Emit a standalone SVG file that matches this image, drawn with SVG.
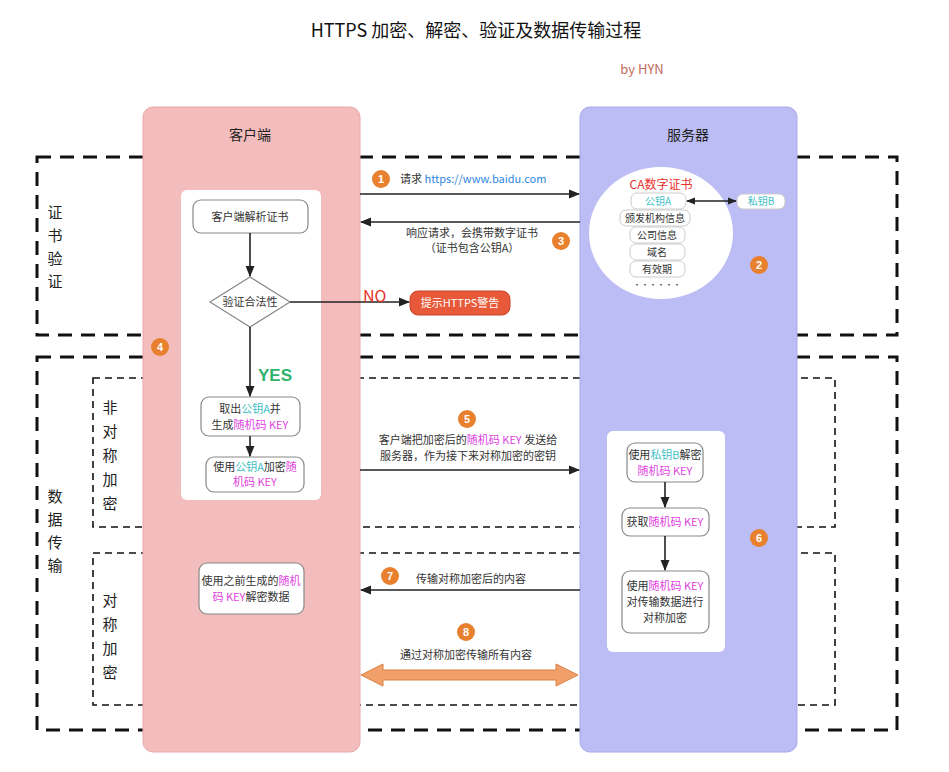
<svg xmlns="http://www.w3.org/2000/svg" width="949" height="772" viewBox="0 0 949 772">
<defs>
<style>
text{font-family:"Noto Sans CJK SC","Liberation Sans",sans-serif;fill:#333}
.t{font-size:11px;text-anchor:middle}
.v{font-size:15px;text-anchor:middle;fill:#222}
.hd{font-size:14px;text-anchor:middle;fill:#222}
.c{fill:#3fbfc4}
.m{fill:#e03fe0}
.box{fill:#fff;stroke:#888;stroke-width:1.2}
.pill{fill:#fff;stroke:#ccc;stroke-width:1}
.dash1{fill:none;stroke:#111;stroke-width:3;stroke-dasharray:14 9}
.dash2{fill:none;stroke:#111;stroke-width:1.6;stroke-dasharray:7 5}
.ln{stroke:#222;stroke-width:1.6;fill:none}
.num circle{fill:#e8802e}
.num text{fill:#fff;font-size:11px;text-anchor:middle;font-family:"Liberation Sans",sans-serif;font-weight:bold}
</style>
<marker id="ah" viewBox="0 0 10 10" refX="9" refY="5" markerWidth="7" markerHeight="7" orient="auto-start-reverse"><path d="M0,1 L10,5 L0,9 z" fill="#222"/></marker>
</defs>
<rect width="949" height="772" fill="#fff"/>
<g id="title">
<text x="476" y="37" style="font-size:18px;text-anchor:middle;fill:#111">HTTPS 加密、解密、验证及数据传输过程</text>
<text x="642" y="74" style="font-size:13px;text-anchor:middle;fill:#c46a5c">by HYN</text>
</g>
<g id="sections">
<rect class="dash1" x="37" y="157" width="860" height="178"/>
<rect class="dash1" x="37" y="357" width="860" height="373"/>
<rect class="dash2" x="93" y="378" width="742" height="149"/>
<rect class="dash2" x="93" y="553" width="742" height="152"/>
<text class="v" x="55" y="218">证</text><text class="v" x="55" y="241">书</text><text class="v" x="55" y="264">验</text><text class="v" x="55" y="287">证</text>
<text class="v" x="55" y="502">数</text><text class="v" x="55" y="525">据</text><text class="v" x="55" y="548">传</text><text class="v" x="55" y="571">输</text>
<text class="v" x="110" y="413">非</text><text class="v" x="110" y="437">对</text><text class="v" x="110" y="461">称</text><text class="v" x="110" y="485">加</text><text class="v" x="110" y="509">密</text>
<text class="v" x="110" y="606">对</text><text class="v" x="110" y="630">称</text><text class="v" x="110" y="654">加</text><text class="v" x="110" y="678">密</text>
</g>
<g id="client">
<rect x="143" y="107" width="217" height="645" rx="10" fill="#f4bdbd" stroke="#e8a8a8"/>
<text class="hd" x="250" y="140">客户端</text>
<rect x="181" y="190" width="140" height="310" rx="6" fill="#fff"/>
</g>
<g id="server">
<rect x="580" y="107" width="217" height="645" rx="10" fill="#bdbdf5" stroke="#a8a8e8"/>
<text class="hd" x="688" y="140">服务器</text>
<rect x="607" y="431" width="118" height="221" rx="6" fill="#fff"/>
</g>
<g id="parse"><rect class="box" x="193" y="200" width="115" height="33" rx="8"/><text class="t" x="250" y="221">客户端解析证书</text></g>
<g id="verify"><path class="box" d="M250,277 L290,302 L250,327 L210,302 z"/><text class="t" x="250" y="306">验证合法性</text></g>
<g id="warn"><rect x="410" y="291" width="100" height="24" rx="8" fill="#e8593a" stroke="#c94528"/><text class="t" x="460" y="307" style="fill:#fff">提示HTTPS警告</text></g>
<g id="getkey"><rect class="box" x="201" y="397" width="99" height="39" rx="8"/>
<text class="t" x="250" y="413">取出<tspan class="c">公钥A</tspan>并</text>
<text class="t" x="250" y="429">生成<tspan class="m">随机码 KEY</tspan></text></g>
<g id="enckey"><rect class="box" x="206" y="457" width="98" height="35" rx="8"/>
<text class="t" x="255" y="471">使用<tspan class="c">公钥A</tspan>加密<tspan class="m">随</tspan></text>
<text class="t" x="255" y="486"><tspan class="m">机码 KEY</tspan></text></g>
<g id="decdata"><rect class="box" x="199" y="563" width="105" height="51" rx="8"/>
<text class="t" x="251" y="585">使用之前生成的<tspan class="m">随机</tspan></text>
<text class="t" x="251" y="601"><tspan class="m">码 KEY</tspan>解密数据</text></g>
<g id="ca">
<ellipse cx="661" cy="233" rx="72" ry="66" fill="#fff"/>
<text x="661" y="189" style="font-size:12px;text-anchor:middle;fill:#e8302a">CA数字证书</text>
<rect class="pill" x="631" y="193" width="55" height="16" rx="6"/><text class="t c" x="658" y="205" style="font-size:10px">公钥A</text>
<rect class="pill" x="620" y="210" width="70" height="16" rx="6"/><text class="t" x="655" y="222" style="font-size:10px">颁发机构信息</text>
<rect class="pill" x="630" y="227" width="55" height="16" rx="6"/><text class="t" x="657" y="239" style="font-size:10px">公司信息</text>
<rect class="pill" x="630" y="244" width="55" height="16" rx="6"/><text class="t" x="657" y="256" style="font-size:10px">域名</text>
<rect class="pill" x="630" y="261" width="55" height="16" rx="6"/><text class="t" x="657" y="273" style="font-size:10px">有效期</text>
<text class="t" x="657" y="288" style="font-size:8px">······</text>
</g>
<g id="privkey"><rect class="pill" x="737" y="194" width="48" height="15" rx="6"/><text class="t c" x="761" y="205" style="font-size:10px">私钥B</text></g>
<g id="decrypt"><rect class="box" x="627" y="443" width="76" height="39" rx="8"/>
<text class="t" x="665" y="459">使用<tspan class="c">私钥B</tspan>解密</text>
<text class="t" x="665" y="475"><tspan class="m">随机码 KEY</tspan></text></g>
<g id="obtain"><rect class="box" x="622" y="508" width="87" height="28" rx="8"/>
<text class="t" x="665" y="526">获取<tspan class="m">随机码 KEY</tspan></text></g>
<g id="symenc"><rect class="box" x="622" y="571" width="87" height="62" rx="8"/>
<text class="t" x="665" y="590">使用<tspan class="m">随机码 KEY</tspan></text>
<text class="t" x="665" y="606">对传输数据进行</text>
<text class="t" x="665" y="622">对称加密</text></g>
<g id="connectors">
<line class="ln" x1="250" y1="233" x2="250" y2="276" marker-end="url(#ah)"/>
<line class="ln" x1="290" y1="302" x2="409" y2="302" marker-end="url(#ah)"/>
<text x="363" y="302" style="font-size:16px;fill:#e8302a">NO</text>
<line class="ln" x1="250" y1="327" x2="250" y2="396" marker-end="url(#ah)"/>
<text x="258" y="381" style="font-size:17px;fill:#2db36a;font-family:'Liberation Sans',sans-serif;font-weight:bold">YES</text>
<line class="ln" x1="250" y1="436" x2="250" y2="456" marker-end="url(#ah)"/>
<line class="ln" x1="360" y1="194" x2="579" y2="194" marker-end="url(#ah)"/>
<text x="400" y="183" style="font-size:11px">请求 <tspan style="fill:#2e86de">https://www.baidu.com</tspan></text>
<line class="ln" x1="580" y1="222" x2="361" y2="222" marker-end="url(#ah)"/>
<text class="t" x="472" y="237">响应请求，会携带数字证书</text>
<text class="t" x="472" y="252">（证书包含公钥A）</text>
<line x1="687" y1="201" x2="736" y2="201" stroke="#222" stroke-width="1.3" marker-start="url(#ah)" marker-end="url(#ah)"/>
<line class="ln" x1="360" y1="470" x2="579" y2="470" marker-end="url(#ah)"/>
<text class="t" x="468" y="444">客户端把加密后的<tspan class="m">随机码 KEY</tspan> 发送给</text>
<text class="t" x="468" y="460">服务器，作为接下来对称加密的密钥</text>
<line class="ln" x1="665" y1="482" x2="665" y2="507" marker-end="url(#ah)"/>
<line class="ln" x1="665" y1="536" x2="665" y2="570" marker-end="url(#ah)"/>
<line class="ln" x1="580" y1="590" x2="361" y2="590" marker-end="url(#ah)"/>
<text class="t" x="471" y="583">传输对称加密后的内容</text>
<text class="t" x="466" y="659">通过对称加密传输所有内容</text>
<path d="M361,675 L383,664 L383,670 L556,670 L556,664 L578,675 L556,686 L556,680 L383,680 L383,686 z" fill="#f2a06a" stroke="#d98048" stroke-width="1"/>
</g>
<g id="numbers" class="num">
<circle cx="381" cy="179" r="9"/><text x="381" y="183">1</text>
<circle cx="759" cy="265" r="9"/><text x="759" y="269">2</text>
<circle cx="561" cy="241" r="9"/><text x="561" y="245">3</text>
<circle cx="160" cy="347" r="9"/><text x="160" y="351">4</text>
<circle cx="467" cy="419" r="9"/><text x="467" y="423">5</text>
<circle cx="759" cy="538" r="9"/><text x="759" y="542">6</text>
<circle cx="390" cy="576" r="9"/><text x="390" y="580">7</text>
<circle cx="466" cy="632" r="9"/><text x="466" y="636">8</text>
</g>
</svg>
